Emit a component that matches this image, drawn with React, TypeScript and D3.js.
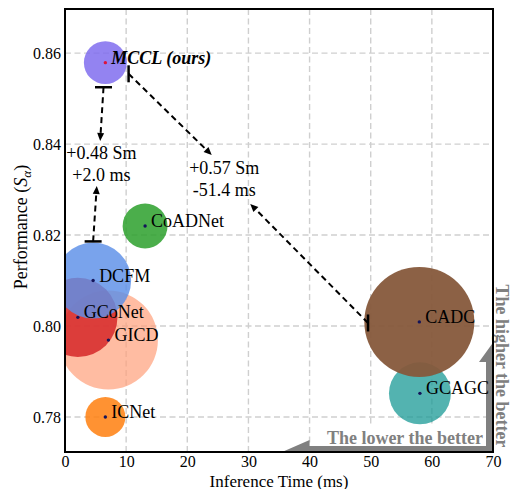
import React, { useEffect, useRef } from 'react';
import * as d3 from 'd3';

// bubbles, in drawing order
const models = ['GICD', 'GCoNet', 'DCFM', 'CoADNet', 'ICNet', 'GCAGC', 'CADC', 'MCCL (ours)'];
const inferenceTime = [7.1, 2.1, 4.6, 13.1, 6.6, 58.05, 57.95, 6.6];
const performance = [0.7969, 0.8019, 0.81, 0.822, 0.78, 0.7852, 0.8009, 0.8579];
const bubbleSize = [2450, 1570, 1445, 505, 400, 960, 3025, 460];
const bubbleColors = ['#ffa07a', '#d62728', '#5b8fe8', '#2ca02c', '#ff7f0e', '#1a9a96', '#86583b', '#7b68ee'];
const bubbleOpacity = [0.7, 0.85, 0.82, 0.85, 0.85, 0.75, 0.95, 0.82];

const xTicks = [0, 10, 20, 30, 40, 50, 60, 70];
const yTicks = [0.78, 0.8, 0.82, 0.84, 0.86];

// annotation arrows: bar end -> arrow head, in data units
const arrowFrom = [[6.3, 0.8525], [4.6, 0.8186], [10.4, 0.85545], [49.56, 0.80067]];
const arrowTo = [[5.75, 0.8407], [5.2, 0.8308], [24.0, 0.8376], [30.3, 0.82685]];
const arrowBar = ['h', 'h', 'v', 'v'];

const gainLines = [['+0.48 Sm', '+2.0 ms'], ['+0.57 Sm', '-51.4 ms']];
const gainPos = [[5.95, 0.83675], [26.05, 0.83345]];

const W = 511;
const H = 489;
const FONT = '"Liberation Serif", "Times New Roman", serif';

export default function App() {
  const ref = useRef<SVGSVGElement>(null);

  useEffect(() => {
    const svg = d3.select(ref.current);
    svg.selectAll('*').remove();

    const left = 65, top = 9, right = 493, bottom = 452;
    const x = d3.scaleLinear().domain([0, 70]).range([left, right]);
    const y = d3.scaleLinear().domain([0.7723, 0.8697]).range([bottom, top]);
    const r = d3.scaleSqrt().domain([0, 3025]).range([0, 55]);

    svg.append('defs').append('clipPath').attr('id', 'plotclip')
      .append('rect').attr('x', left).attr('y', top).attr('width', right - left).attr('height', bottom - top);

    // grid
    const grid = svg.append('g')
      .attr('stroke', '#cfcfcf').attr('stroke-width', 1.4).attr('stroke-dasharray', '6,3.5');
    grid.selectAll('.gx').data(xTicks.slice(1, -1)).enter().append('line')
      .attr('x1', d => x(d)).attr('x2', d => x(d)).attr('y1', top).attr('y2', bottom);
    grid.selectAll('.gy').data(yTicks).enter().append('line')
      .attr('x1', left).attr('x2', right).attr('y1', d => y(d)).attr('y2', d => y(d));

    // "lower / higher is better" decorations
    const deco = svg.append('g').attr('fill', '#808080');
    deco.append('rect').attr('x', left + 246).attr('y', bottom - 25).attr('width', right - 8 - (left + 246)).attr('height', 19).attr('fill', '#fff');
    deco.append('path').attr('d', `M${x(35.5)},${bottom} L${x(40)},${bottom - 12} L${x(40)},${bottom - 6} L${right},${bottom - 6} L${right},${bottom} Z`);
    deco.append('path').attr('d', `M${right - 14},${y(0.7921)} L${right - 1},${y(0.79605)} L${right},${bottom} L${right - 7},${bottom} L${right - 7},${y(0.7921)} Z`);
    deco.append('text').attr('x', right - 10).attr('y', bottom - 8)
      .attr('text-anchor', 'end').attr('font-family', FONT).attr('font-size', 18).attr('font-weight', 'bold')
      .text('The lower the better');
    deco.append('text').attr('transform', `translate(${right + 3},366) rotate(90)`)
      .attr('text-anchor', 'middle').attr('font-family', FONT).attr('font-size', 18).attr('font-weight', 'bold')
      .text('The higher the better');

    // bubbles
    const idx = d3.range(models.length);
    svg.append('g').attr('clip-path', 'url(#plotclip)')
      .selectAll('circle').data(idx).enter().append('circle')
      .attr('cx', i => x(inferenceTime[i])).attr('cy', i => y(performance[i]))
      .attr('r', i => r(bubbleSize[i]))
      .attr('fill', i => bubbleColors[i]).attr('fill-opacity', i => bubbleOpacity[i]);

    svg.append('g').selectAll('circle').data(idx).enter().append('circle')
      .attr('cx', i => x(inferenceTime[i])).attr('cy', i => y(performance[i]))
      .attr('r', 1.7)
      .attr('fill', i => (models[i].startsWith('MCCL') ? '#dc143c' : '#14145a'));

    svg.append('g').selectAll('text').data(idx).enter().append('text')
      .attr('x', i => x(inferenceTime[i]) + 6).attr('y', i => y(performance[i]) + 1)
      .attr('font-family', FONT).attr('font-size', 18)
      .attr('font-weight', i => (models[i].startsWith('MCCL') ? 'bold' : 'normal'))
      .attr('font-style', i => (models[i].startsWith('MCCL') ? 'italic' : 'normal'))
      .text(i => models[i]);

    // annotation arrows
    const ann = svg.append('g');
    arrowFrom.forEach((f, i) => {
      const x1 = x(f[0]), y1 = y(f[1]);
      const x2 = x(arrowTo[i][0]), y2 = y(arrowTo[i][1]);
      const len = Math.hypot(x2 - x1, y2 - y1);
      const ux = (x2 - x1) / len, uy = (y2 - y1) / len;
      const head = 8, hw = 3.5;
      const bx = x2 - ux * head, by = y2 - uy * head;
      ann.append('line').attr('x1', x1).attr('y1', y1).attr('x2', bx).attr('y2', by)
        .attr('stroke', '#000').attr('stroke-width', 2).attr('stroke-dasharray', '6,4');
      ann.append('path')
        .attr('d', `M${x2},${y2} L${bx - uy * hw},${by + ux * hw} L${bx + uy * hw},${by - ux * hw} Z`)
        .attr('fill', '#000');
      if (arrowBar[i] === 'h') {
        ann.append('line').attr('x1', x1 - 8.5).attr('x2', x1 + 8.5).attr('y1', y1).attr('y2', y1)
          .attr('stroke', '#000').attr('stroke-width', 2.5);
      } else {
        ann.append('line').attr('x1', x1).attr('x2', x1).attr('y1', y1 - 8.5).attr('y2', y1 + 8.5)
          .attr('stroke', '#000').attr('stroke-width', 2.5);
      }
    });

    gainLines.forEach((lines, i) => {
      const t = ann.append('text').attr('font-family', FONT).attr('font-size', 18).attr('text-anchor', 'middle');
      lines.forEach((l, j) => {
        t.append('tspan').attr('x', x(gainPos[i][0])).attr('y', y(gainPos[i][1]) + j * 22).text(l);
      });
    });

    // axes
    const yAxis = svg.append('g').attr('transform', `translate(${left},0)`)
      .call(d3.axisLeft(y).tickValues(yTicks).tickSize(0).tickPadding(4).tickFormat(d3.format('.2f')));
    const xAxis = svg.append('g').attr('transform', `translate(0,${bottom})`)
      .call(d3.axisBottom(x).tickValues(xTicks).tickSize(0).tickPadding(4).tickFormat(d3.format('d')));
    [yAxis, xAxis].forEach(a => {
      a.select('.domain').remove();
      a.selectAll('text').attr('font-family', FONT).attr('font-size', 16).attr('fill', '#000');
    });
    yAxis.selectAll('text').attr('dy', '0.36em');

    svg.append('rect').attr('x', left).attr('y', top).attr('width', right - left).attr('height', bottom - top)
      .attr('fill', 'none').attr('stroke', '#000').attr('stroke-width', 2);

    svg.append('text').attr('x', (left + right) / 2).attr('y', 486.5)
      .attr('text-anchor', 'middle').attr('font-family', FONT).attr('font-size', 17)
      .text('Inference Time (ms)');

    const yl = svg.append('text').attr('transform', `translate(27,227) rotate(-90)`)
      .attr('text-anchor', 'middle').attr('font-family', FONT).attr('font-size', 18);
    yl.append('tspan').text('Performance (');
    yl.append('tspan').attr('font-style', 'italic').text('S');
    yl.append('tspan').attr('font-style', 'italic').attr('font-size', 13).attr('dy', 4).text('α');
    yl.append('tspan').attr('dy', -4).text(')');
  }, []);

  return (
    <svg ref={ref} width={W} height={H} style={{ position: 'absolute', left: 0, top: 0, background: '#fff' }} />
  );
}
